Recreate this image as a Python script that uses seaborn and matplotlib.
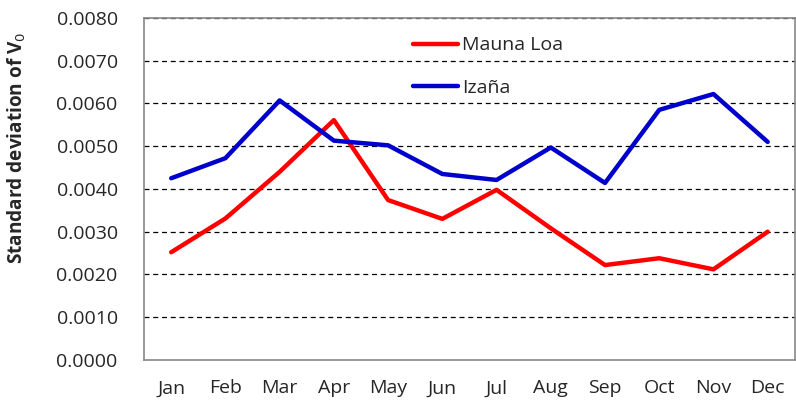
import matplotlib
matplotlib.use("Agg")
import matplotlib.pyplot as plt
import seaborn as sns
import pandas as pd
import numpy as np

months = ["Jan", "Feb", "Mar", "Apr", "May", "Jun", "Jul", "Aug", "Sep", "Oct", "Nov", "Dec"]
mauna_loa = [0.00252, 0.00331, 0.00440, 0.00561, 0.00374, 0.00330, 0.00398, 0.00308, 0.00222, 0.00238, 0.00212, 0.00300]
izana = [0.00425, 0.00472, 0.00607, 0.00513, 0.00502, 0.00435, 0.00421, 0.00497, 0.00414, 0.00585, 0.00622, 0.00510]
series_names = ["Mauna Loa", "Izaña"]
yticks = [0.0, 0.001, 0.002, 0.003, 0.004, 0.005, 0.006, 0.007, 0.008]

df = pd.DataFrame({
    "month": months * 2,
    "value": mauna_loa + izana,
    "series": [series_names[0]] * 12 + [series_names[1]] * 12,
})

sns.set_style("white")
plt.rcParams["font.family"] = ["Open Sans", "DejaVu Sans"]

fig = plt.figure(figsize=(7.96, 4.07), dpi=100)
ax = fig.add_axes([0.181, 0.1155, 0.8175, 0.8405])

sns.lineplot(data=df, x="month", y="value", hue="series",
             palette={"Mauna Loa": "#ff0000", "Izaña": "#0000cc"},
             linewidth=3.2, ax=ax, sort=False)

ax.set_xlim(-0.5, 11.5)
ax.set_ylim(0, 0.008)
ax.set_yticks(yticks)
ax.set_yticklabels([f"{v:.4f}" for v in yticks], fontsize=14)
ax.set_xticks(range(12))
ax.set_xticklabels(months, fontsize=14)
ax.set_xticks(np.arange(-0.5, 12, 1), minor=True)
ax.tick_params(axis="x", which="major", length=0, pad=14)
ax.tick_params(axis="x", which="minor", length=6, color="#888888", width=1)
ax.tick_params(axis="y", length=7, color="#888888", width=1, pad=12)

for s in ["left", "bottom", "right", "top"]:
    ax.spines[s].set_color("#888888")
    ax.spines[s].set_linewidth(1.2)

for v in yticks[1:]:
    ax.axhline(v, color="black", linestyle=(0, (4, 3)), linewidth=0.9, zorder=0.5,
               clip_on=False)

ax.set_xlabel("")
ax.set_ylabel("Standard deviation of V$_0$", fontsize=13.7, fontweight="bold")
ax.yaxis.set_label_coords(-0.178, 0.62)

leg = ax.legend(loc="upper left", bbox_to_anchor=(0.387, 0.997), frameon=False,
                fontsize=14, handlelength=2.3, handletextpad=0.2, labelspacing=1.26)
for h in leg.get_lines():
    h.set_linewidth(3.2)

fig.savefig("out.png", dpi=100)
